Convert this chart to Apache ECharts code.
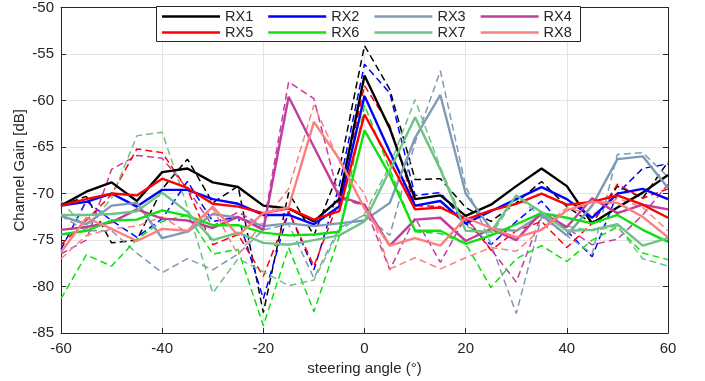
<!DOCTYPE html>
<html>
<head>
	<meta charset="UTF-8">
	<title>Channel gain vs steering angle</title>
	<script src="https://cdn.jsdelivr.net/npm/echarts@6/dist/echarts.min.js"></script>
	<style>
		html, body { margin: 0; padding: 0; background: #fff; }
		#main { width: 705px; height: 381px; }
	</style>
</head>
<body>
<div id="main"></div>
<script>
	// steering angles (deg)
	var angles = [-60, -55, -50, -45, -40, -35, -30, -25, -20, -15, -10, -5, 0, 5, 10, 15, 20, 25, 30, 35, 40, 45, 50, 55, 60];

	// solid lines
	var rx1 = [-71.3, -69.8, -68.8, -70.8, -67.7, -67.3, -68.8, -69.3, -71.3, -71.6, -73.0, -70.6, -57.3, -63.0, -70.6, -70.2, -72.4, -71.2, -69.2, -67.3, -69.2, -73.2, -71.5, -69.9, -68.0];
	var rx2 = [-71.3, -70.9, -70.0, -71.4, -69.6, -69.6, -70.6, -71.1, -72.3, -72.3, -73.3, -71.4, -59.5, -65.5, -71.3, -70.8, -73.2, -71.9, -70.6, -69.3, -70.6, -72.6, -70.0, -69.5, -70.6];
	var rx3 = [-72.4, -73.3, -71.3, -71.0, -74.8, -74.1, -72.2, -72.6, -73.5, -73.2, -73.5, -73.2, -72.9, -71.0, -64.0, -59.4, -70.0, -73.8, -74.0, -72.3, -74.5, -71.3, -66.3, -66.0, -69.4];
	var rx4 = [-73.9, -73.6, -73.1, -71.7, -72.7, -72.9, -73.7, -72.5, -73.9, -59.6, -65.0, -70.3, -71.2, -75.6, -72.8, -72.6, -75.1, -73.8, -75.0, -72.0, -73.6, -70.5, -72.1, -71.2, -71.7];
	var rx5 = [-71.3, -70.6, -70.0, -70.2, -68.4, -69.4, -71.1, -71.4, -72.1, -71.6, -72.8, -71.9, -61.5, -66.5, -71.7, -71.5, -72.8, -71.8, -71.1, -70.0, -71.2, -70.9, -70.2, -71.2, -72.6];
	var rx6 = [-74.4, -74.0, -72.9, -72.8, -71.8, -72.4, -73.4, -73.4, -74.2, -74.5, -74.4, -74.1, -63.2, -68.0, -74.0, -74.0, -75.4, -74.5, -73.3, -72.1, -72.6, -73.2, -72.3, -73.9, -75.2];
	var rx7 = [-72.3, -72.3, -72.2, -71.9, -69.9, -72.0, -75.0, -74.2, -75.3, -75.5, -75.0, -74.5, -73.0, -67.5, -61.8, -67.4, -74.0, -74.1, -70.2, -72.0, -74.0, -73.9, -73.3, -75.6, -74.8];
	var rx8 = [-76.3, -72.6, -73.8, -75.1, -73.8, -74.0, -71.4, -74.5, -72.1, -71.5, -62.3, -66.3, -71.6, -75.6, -74.8, -75.6, -72.6, -73.7, -74.7, -73.9, -71.8, -70.9, -71.0, -72.5, -74.7];

	// dashed lines
	var rx1d = [-71.3, -70.3, -75.3, -75.0, -69.5, -66.3, -71.0, -69.2, -82.8, -69.9, -74.5, -67.5, -54.1, -58.8, -68.5, -68.4, -71.5, -73.0, -71.0, -68.7, -71.4, -73.2, -69.2, -70.5, -66.6];
	var rx2d = [-76.0, -70.8, -72.9, -74.7, -72.7, -68.7, -73.0, -72.5, -81.3, -71.9, -78.2, -69.2, -56.1, -59.2, -70.2, -69.9, -73.2, -75.5, -73.0, -70.8, -74.0, -76.8, -70.0, -67.3, -66.8];
	var rx3d = [-72.4, -74.0, -74.0, -76.4, -78.5, -77.0, -78.2, -76.5, -73.9, -73.3, -79.1, -73.7, -72.3, -74.5, -64.5, -56.8, -69.2, -75.4, -82.9, -72.5, -74.5, -76.5, -65.8, -65.6, -68.2];
	var rx4d = [-76.5, -75.0, -67.4, -65.9, -66.2, -69.5, -73.5, -72.0, -73.5, -58.0, -59.8, -70.5, -71.3, -78.2, -72.6, -77.4, -72.5, -76.0, -79.5, -72.3, -73.7, -75.5, -74.9, -72.3, -69.0];
	var rx5d = [-75.5, -72.9, -70.1, -65.2, -65.6, -69.6, -75.5, -74.4, -78.9, -71.9, -77.8, -70.7, -58.4, -62.7, -71.3, -71.4, -72.6, -76.1, -74.0, -73.0, -75.8, -73.2, -69.0, -70.5, -69.5];
	var rx6d = [-81.3, -76.6, -77.8, -74.9, -73.0, -72.3, -76.5, -76.0, -84.2, -75.8, -82.7, -74.6, -60.5, -67.4, -74.1, -74.3, -75.4, -80.1, -77.0, -75.6, -77.3, -75.0, -73.6, -76.4, -77.1];
	var rx7d = [-70.8, -73.8, -70.5, -63.8, -63.4, -71.5, -80.7, -77.0, -78.4, -79.9, -79.3, -74.0, -72.2, -67.0, -59.9, -67.2, -73.5, -74.5, -70.3, -72.5, -73.5, -74.0, -73.5, -77.0, -77.8];
	var rx8d = [-77.0, -74.5, -73.8, -73.5, -72.5, -74.2, -71.6, -76.6, -73.0, -69.5, -60.5, -66.5, -70.0, -78.1, -76.9, -78.1, -76.9, -75.8, -76.2, -73.8, -71.5, -72.3, -70.5, -71.5, -74.0];

	var names = ['RX1', 'RX2', 'RX3', 'RX4', 'RX5', 'RX6', 'RX7', 'RX8'];
	var colors = ['#000000', '#0000ff', '#7f9ab5', '#c23c9e', '#ff0000', '#10e010', '#6cc484', '#fa8080'];
	var solid = [rx1, rx2, rx3, rx4, rx5, rx6, rx7, rx8];
	var dashed = [rx1d, rx2d, rx3d, rx4d, rx5d, rx6d, rx7d, rx8d];

	function pairs(vals) {
		return angles.map(function (a, i) { return [a, vals[i]]; });
	}

	var series = [];
	for (var i = 0; i < names.length; i++) {
		series.push({
			name: names[i] + ' dashed',
			type: 'line',
			data: pairs(dashed[i]),
			showSymbol: false,
			lineStyle: { color: colors[i], width: 1.5, type: [7, 4] },
			itemStyle: { color: colors[i] }
		});
	}
	for (var j = 0; j < names.length; j++) {
		series.push({
			name: names[j],
			type: 'line',
			data: pairs(solid[j]),
			showSymbol: false,
			lineStyle: { color: colors[j], width: 2.4 },
			itemStyle: { color: colors[j] }
		});
	}

	var font = 'Liberation Sans, Arial, sans-serif';
	var axisCol = '#262626';

	function legendRow(items, top) {
		return {
			data: items,
			left: 162,
			top: top,
			z: 200,
			padding: 0,
			icon: 'rect',
			itemWidth: 58,
			itemHeight: 2.4,
			itemGap: 15,
			selectedMode: false,
			textStyle: { fontSize: 14.5, color: axisCol, fontFamily: font }
		};
	}

	var chart = echarts.init(document.getElementById('main'));
	chart.setOption({
		animation: false,
		backgroundColor: '#fff',
		grid: { left: 61, right: 37, top: 6, bottom: 40 },
		legend: [legendRow(names.slice(0, 4), 9), legendRow(names.slice(4), 25)],
		graphic: {
			elements: [{
				type: 'rect',
				z: 100,
				shape: { x: 156.5, y: 6.5, width: 424, height: 35 },
				style: { fill: '#fff', stroke: axisCol, lineWidth: 1 }
			}]
		},
		xAxis: [{
			type: 'value', min: -60, max: 60, interval: 20,
			name: 'steering angle (°)', nameLocation: 'middle', nameGap: 21,
			nameTextStyle: { fontSize: 15, color: axisCol, fontFamily: font },
			axisLine: { show: true, onZero: false, lineStyle: { color: axisCol } },
			axisTick: { inside: true, length: 5, lineStyle: { color: axisCol } },
			axisLabel: { fontSize: 15, color: axisCol, fontFamily: font, margin: 8 },
			splitLine: { show: true, lineStyle: { color: '#e4e4e4' } }
		}, {
			type: 'value', min: -60, max: 60, interval: 20, position: 'top',
			axisLine: { show: true, onZero: false, lineStyle: { color: axisCol } },
			axisTick: { inside: true, length: 5, lineStyle: { color: axisCol } },
			axisLabel: { show: false },
			splitLine: { show: false }
		}],
		yAxis: [{
			type: 'value', min: -85, max: -50, interval: 5,
			name: 'Channel Gain [dB]', nameLocation: 'middle', nameGap: 34,
			nameMoveOverlap: false,
			nameTextStyle: { fontSize: 15, color: axisCol, fontFamily: font },
			axisLine: { show: true, onZero: false, lineStyle: { color: axisCol } },
			axisTick: { inside: true, length: 5, lineStyle: { color: axisCol } },
			axisLabel: { fontSize: 15, color: axisCol, fontFamily: font, margin: 7 },
			splitLine: { show: true, lineStyle: { color: '#e4e4e4' } }
		}, {
			type: 'value', min: -85, max: -50, interval: 5, position: 'right',
			axisLine: { show: true, onZero: false, lineStyle: { color: axisCol } },
			axisTick: { inside: true, length: 5, lineStyle: { color: axisCol } },
			axisLabel: { show: false },
			splitLine: { show: false }
		}],
		series: series
	});
</script>
</body>
</html>
